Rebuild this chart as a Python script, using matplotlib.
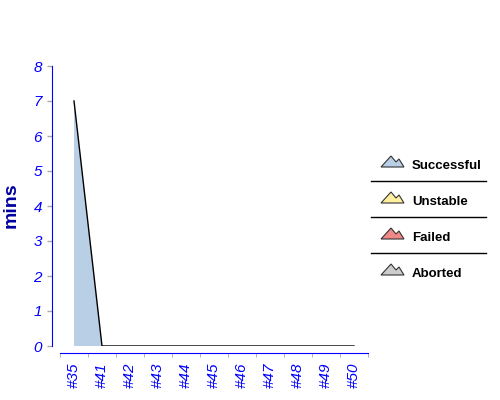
import numpy as np
import matplotlib.pyplot as plt
from matplotlib.patches import Polygon
from matplotlib.lines import Line2D

plt.rcParams['font.family'] = ['Liberation Sans', 'DejaVu Sans']

builds = ['#35', '#41', '#42', '#43', '#44', '#45', '#46', '#47', '#48', '#49', '#50']
successful = [7, 0, 0, 0, 0, 0, 0, 0, 0, 0, 0]
unstable = [0] * 11
failed = [0] * 11
aborted = [0] * 11

legend_names = ['Successful', 'Unstable', 'Failed', 'Aborted']
legend_colors = ['#b8cfe6', '#fff0a0', '#f08888', '#cccccc']

W, H = 500, 400
PT = 72 / 100  # points per pixel
fig = plt.figure(figsize=(5, 4), dpi=100)

# axes placed in pixel terms
ax = fig.add_axes([60 / W, (H - 346) / H, 308 / W, 280 / H])
x = np.arange(len(builds))
ax.stackplot(x, successful, unstable, failed, aborted, colors=legend_colors, lw=0)
top = np.array(successful) + np.array(unstable) + np.array(failed) + np.array(aborted)
ax.plot(x, top, color='black', lw=1)

ax.set_xlim(-0.5, len(builds) - 0.5)
ax.set_ylim(0, 8)

for s in ['top', 'right']:
    ax.spines[s].set_visible(False)
ax.spines['left'].set_position(('outward', 8 * PT))
ax.spines['bottom'].set_position(('outward', 7 * PT))
ax.spines['left'].set_edgecolor('#0000ff')
ax.spines['bottom'].set_edgecolor('#0000ff')

ax.set_yticks(range(0, 9))
ax.tick_params(axis='y', colors='#aaaaaa', labelcolor='#0000ff', length=5 * PT, width=1,
               pad=5 * PT, labelsize=11)
for t in ax.get_yticklabels():
    t.set_fontstyle('italic')

ax.set_xticks(x)
ax.set_xticklabels(builds, rotation=90, fontstyle='italic', color='#0000ff', fontsize=11)
ax.tick_params(axis='x', which='major', length=0, pad=9 * PT)
ax.set_xticks(np.arange(-0.5, len(builds)), minor=True)
ax.tick_params(axis='x', which='minor', length=4 * PT, color='#aaaaaa')

ax.set_ylabel('mins', fontsize=14, fontweight='bold', color='#0000a0')
ax.yaxis.set_label_coords((20 - 60) / 308, (346 - 205) / 280)

# legend on the right
ys = [166, 202, 238, 274]
for name, col, yy in zip(legend_names, legend_colors, ys):
    pts = [(381, yy + 1), (391, yy - 10), (396, yy - 4), (399, yy - 7), (404, yy + 1)]
    pts = [(px / W, (H - py) / H) for px, py in pts]
    fig.add_artist(Polygon(pts, closed=True, facecolor=col, edgecolor='#333333', lw=0.8,
                           transform=fig.transFigure))
    fig.text(412 / W, (H - yy) / H, name, fontsize=9.5, fontweight='bold', va='center', ha='left')
for yy in [181, 217, 253]:
    fig.add_artist(Line2D([371 / W, 486 / W], [(H - yy) / H] * 2, color='black', lw=1,
                          transform=fig.transFigure))

fig.savefig('out.png', dpi=100)
